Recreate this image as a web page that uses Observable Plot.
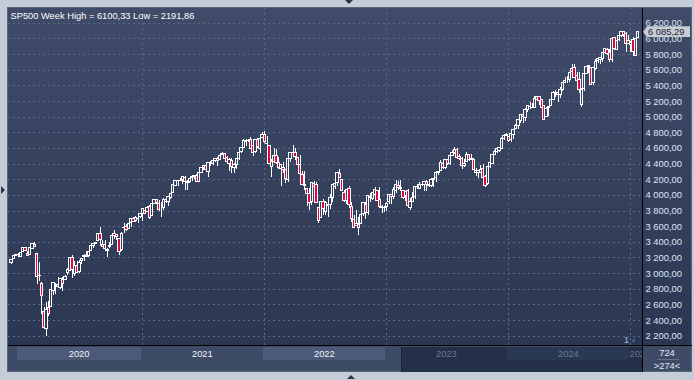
<!DOCTYPE html>
<html><head><meta charset="utf-8">
<script src="https://cdn.jsdelivr.net/npm/d3@7"></script>
<script src="https://cdn.jsdelivr.net/npm/@observablehq/plot@0.6"></script>
<style>
html,body{margin:0;padding:0;background:#c4ccd8;}
#wrap{position:relative;width:694px;height:380px;overflow:hidden;background:#c4ccd8;font-family:"Liberation Sans",Arial,sans-serif;}
.abs{position:absolute;box-sizing:border-box;}
#wrap svg{position:absolute;left:0;top:0;}
</style>
</head><body>
<div id="wrap"></div>
<script>
// ---- data (weekly S&P 500 bars, first week starting 2019-12-09) ----
const firstWeek = "2019-12-09";
const title = "SP500 Week High = 6100,33 Low = 2191,86";
const lastLabel = "6 085,29";
const years = ["2020","2021","2022","2023","2024","2025"];
const yTicks = [2200,2400,2600,2800,3000,3200,3400,3600,3800,4000,4200,4400,4600,4800,5000,5200,5400,5600,5800,6000,6200];
const barCountLabel = "724";
const visibleLabel = ">274<";

const open = [3141,3183,3227,
3240,3218,3271,3321,3248,3236,3319,3370,3257,2975,
2864,2509,2291,2558,2579,2782,2846,2855,2816,2915,
2913,3005,3038,3199,2994,3095,3018,3155,3206,3225,
3219,3289,3356,3381,3418,3509,3371,3364,3285,3334,
3367,3500,3494,3441,3297,3584,3601,3567,3642,3694,
3675,3694,3723,3764,3803,3782,3852,3732,3892,3939,
3886,3842,3844,3942,3916,3969,4035,4124,4179,4185,
4192,4228,4170,4170,4216,4229,4248,4174,4285,4356,
4373,4297,4409,4407,4438,4462,4454,4514,4535,4474,
4403,4442,4348,4385,4464,4554,4610,4701,4689,4712,
4629,4549,4711,4587,4734,4778,4655,4632,4357,4432,
4505,4412,4332,4354,4327,4202,4462,4541,4547,4474,
4385,4256,4131,4081,4013,3919,4151,4135,3838,3716,
3921,3793,3880,3883,3966,4113,4155,4270,4195,4034,
3930,4084,3849,3682,3610,3626,3639,3762,3883,3780,
3978,3956,4005,4053,3940,3853,3844,3853,3910,3999,
3979,4057,4120,4091,4050,3993,4055,3835,3917,3983,
4103,4085,4135,4138,4166,4136,4126,4191,4226,4282,
4308,4396,4344,4450,4395,4505,4543,4585,4492,4464,
4380,4426,4510,4460,4453,4310,4284,4289,4343,4239,
4140,4364,4407,4512,4554,4569,4593,4725,4758,4745,
4703,4772,4853,4892,4951,5027,4989,5094,5131,5112,
5123,5219,5258,5218,5149,5005,5114,5143,5221,5305,
5315,5283,5341,5432,5460,5471,5572,5634,5526,5477,
5151,5358,5558,5641,5624,5442,5615,5712,5727,5738,
5820,5858,5824,5725,6016,5863,5992,6040,6083,6063,
5941,5920,5982,5788,6014];
const high = [3176,3226,3248,
3258,3268,3330,3338,3285,3342,3385,3394,3259,3137,
2883,2562,2637,2641,2819,2880,2868,2954,2932,2945,
2981,3068,3212,3233,3155,3155,3166,3186,3238,3280,
3272,3352,3387,3399,3510,3588,3425,3429,3320,3393,
3482,3550,3502,3443,3529,3646,3628,3644,3702,3712,
3726,3711,3760,3827,3824,3861,3870,3888,3938,3951,
3929,3915,3960,3983,3978,4021,4131,4192,4195,4219,
4238,4236,4188,4214,4238,4249,4262,4287,4356,4372,
4394,4415,4429,4440,4470,4480,4513,4546,4538,4492,
4466,4466,4412,4475,4560,4608,4719,4718,4718,4744,
4672,4714,4732,4741,4808,4819,4749,4634,4453,4595,
4590,4490,4387,4416,4329,4465,4546,4637,4594,4476,
4513,4308,4308,4082,4091,4160,4178,4168,3839,3914,
3946,3919,3882,4013,4140,4167,4283,4325,4203,4062,
4076,4119,3906,3737,3807,3719,3762,3906,3911,4002,
4028,4034,4101,4056,4101,3876,3859,3906,4003,4015,
4095,4195,4176,4196,4052,4048,4079,3963,4039,4110,
4133,4164,4170,4170,4187,4155,4212,4213,4290,4300,
4448,4401,4458,4458,4528,4578,4607,4594,4527,4490,
4459,4542,4515,4527,4467,4338,4324,4385,4394,4259,
4366,4418,4521,4568,4598,4609,4738,4778,4793,4755,
4799,4843,4907,4975,5030,5049,5111,5141,5190,5180,
5262,5265,5264,5222,5152,5123,5140,5240,5325,5342,
5318,5375,5448,5506,5524,5570,5667,5670,5566,5567,
5362,5563,5643,5651,5627,5637,5734,5767,5767,5822,
5879,5878,5863,6012,6018,5973,6044,6100,6085,6085,
6050,5966,6021,6009,6100];
const low = [3117,3183,3224,
3212,3214,3264,3280,3214,3234,3315,3328,2855,2902,
2478,2280,2192,2447,2576,2725,2727,2816,2798,2767,
2910,2970,3031,2936,2966,3003,3000,3115,3152,3200,
3205,3284,3317,3369,3414,3349,3330,3313,3209,3323,
3354,3441,3419,3234,3280,3512,3543,3562,3595,3648,
3648,3636,3700,3663,3750,3780,3694,3725,3885,3885,
3790,3723,3806,3892,3853,3944,4034,4118,4118,4174,
4142,4057,4062,4154,4180,4209,4164,4165,4283,4320,
4315,4233,4367,4387,4425,4367,4450,4512,4457,4427,
4306,4279,4278,4330,4447,4537,4595,4631,4673,4586,
4495,4532,4600,4531,4732,4663,4582,4395,4223,4410,
4401,4327,4115,4279,4157,4161,4425,4507,4450,4381,
4262,4124,4062,3859,3811,3876,4074,3899,3637,3702,
3741,3742,3722,3818,3911,4079,4108,4218,4057,3907,
3887,3838,3647,3584,3599,3492,3638,3735,3698,3744,
3907,3937,3938,3919,3828,3765,3784,3795,3888,3885,
3949,4020,4060,4048,3943,3928,3847,3809,3906,3951,
4069,4072,4113,4049,4048,4099,4103,4103,4166,4255,
4304,4328,4328,4385,4382,4491,4528,4464,4450,4335,
4356,4424,4431,4448,4316,4238,4216,4283,4223,4104,
4127,4341,4404,4510,4537,4547,4590,4699,4751,4682,
4682,4714,4842,4845,4918,4920,4947,5057,5097,5105,
5117,5204,5146,5107,4953,4990,5012,5140,5212,5257,
5191,5234,5325,5430,5428,5448,5528,5497,5391,5306,
5120,5325,5540,5560,5403,5402,5602,5691,5674,5696,
5800,5784,5704,5696,5853,5854,5964,6015,6024,5832,
5935,5829,5774,5773,6005];
const close = [3169,3221,3240,
3235,3265,3330,3295,3226,3328,3380,3338,2954,2972,
2711,2305,2541,2489,2790,2875,2837,2831,2930,2864,
2955,3044,3194,3041,3098,3009,3130,3185,3225,3216,
3271,3351,3373,3397,3508,3427,3341,3319,3298,3348,
3477,3484,3465,3270,3509,3585,3558,3638,3699,3663,
3709,3703,3756,3825,3768,3841,3714,3887,3935,3907,
3811,3842,3943,3913,3975,4020,4129,4185,4180,4181,
4233,4174,4156,4204,4230,4247,4166,4281,4352,4370,
4327,4412,4395,4437,4468,4442,4509,4535,4459,4433,
4455,4357,4391,4471,4545,4605,4698,4683,4698,4595,
4538,4712,4621,4726,4766,4677,4663,4398,4432,4501,
4419,4349,4385,4329,4204,4463,4543,4546,4488,4393,
4272,4132,4123,4024,3901,4158,4109,3901,3675,3912,
3825,3899,3863,3962,4130,4145,4280,4228,4058,3924,
4067,3873,3693,3586,3640,3583,3753,3901,3771,3993,
3965,4026,4072,3934,3852,3845,3840,3895,3999,3973,
4071,4136,4090,4079,3970,4046,3862,3917,3971,4109,
4105,4138,4134,4169,4136,4124,4192,4205,4282,4299,
4410,4348,4450,4399,4505,4536,4582,4478,4464,4370,
4406,4516,4457,4450,4320,4288,4309,4328,4224,4117,
4358,4415,4514,4559,4595,4604,4719,4755,4770,4697,
4784,4840,4891,4959,5027,5006,5089,5137,5124,5117,
5234,5254,5204,5123,4967,5100,5128,5223,5303,5305,
5278,5347,5432,5465,5460,5567,5615,5505,5459,5347,
5344,5554,5635,5648,5408,5626,5703,5738,5751,5815,
5865,5808,5729,5996,5871,5969,6032,6090,6051,5931,
5971,5942,5827,5997,6085.29];

// ---- build rows ----
const t0 = new Date(firstWeek + "T00:00:00Z");
const bars = close.map((c, k) => {
  const mon = d3.utcDay.offset(t0, 7 * k);
  let last = d3.utcDay.offset(mon, 4);
  if (last.getUTCMonth() === 0 && last.getUTCDate() === 1) last = d3.utcDay.offset(last, -1);
  return {k, o: open[k], h: high[k], l: low[k], c, year: String(last.getUTCFullYear())};
});
const up = bars.filter(d => d.c >= d.o);
const down = bars.filter(d => d.c < d.o);
const yearStart = years.map(y => bars.find(d => d.year === y).k);

const loc = d3.formatLocale({decimal: ",", thousands: " ", grouping: [3], currency: ["", ""]});
const fmt = loc.format(",.2f");

const gridColor = "#5b6885";
const font = "'Liberation Sans', Arial, sans-serif";
const halfBody = 0.5;

const defs = () => {
  const d = d3.create("svg:defs");
  const g = d.append("linearGradient").attr("id", "bgGrad").attr("gradientUnits", "userSpaceOnUse")
    .attr("x1", 0).attr("x2", 0).attr("y1", 8).attr("y2", 345);
  g.append("stop").attr("offset", 0).attr("stop-color", "#3f4b68");
  g.append("stop").attr("offset", 1).attr("stop-color", "#2b3752");
  return d.node();
};

const chart = Plot.plot({
  width: 694, height: 380,
  marginLeft: 8, marginRight: 52, marginTop: 8, marginBottom: 35,
  style: {background: "transparent", overflow: "visible", fontFamily: font, color: "#dce5f3"},
  x: {type: "linear", domain: [-1.22, 268.9], axis: null},
  y: {type: "linear", domain: [2081, 6389], axis: null},
  marks: [
    defs,
    Plot.gridY(yTicks, {stroke: gridColor, strokeOpacity: 1, strokeDasharray: "2,3", shapeRendering: "crispEdges"}),
    Plot.ruleX(yearStart.slice(1), {stroke: gridColor, strokeOpacity: 1, strokeDasharray: "2,3", shapeRendering: "crispEdges"}),
    Plot.ruleX(bars, {x: "k", y1: "l", y2: "h", stroke: "#ffffff", strokeWidth: 1, shapeRendering: "crispEdges"}),
    Plot.rect(up, {x1: d => d.k - halfBody, x2: d => d.k + halfBody, y1: "o", y2: "c", fill: "url(#bgGrad)", stroke: "#ffffff", strokeWidth: 1, shapeRendering: "crispEdges"}),
    Plot.rect(down, {x1: d => d.k - halfBody, x2: d => d.k + halfBody, y1: "o", y2: "c", fill: "#e2063c", stroke: "#ffffff", strokeWidth: 1, shapeRendering: "crispEdges"}),
    Plot.axisY(yTicks, {anchor: "right", tickSize: 0, tickPadding: 3, tickFormat: fmt, label: null, fontSize: 9.4, color: "#dce5f3"}),
    Plot.text([title], {frameAnchor: "top-left", dx: 2, dy: 4, textAnchor: "start", lineAnchor: "top", fill: "#ffffff", fontSize: 9.3})
  ]
});

const sx = chart.scale("x"), sy = chart.scale("y");
const fx = sx.apply ? v => sx.apply(v) : d3.scaleLinear(sx.domain, sx.range);
const fy = sy.apply ? v => sy.apply(v) : d3.scaleLinear(sy.domain, sy.range);

const wrap = document.getElementById("wrap");
function box(css, html) {
  const e = document.createElement("div");
  e.className = "abs";
  e.style.cssText = css;
  if (html !== undefined) e.innerHTML = html;
  wrap.appendChild(e);
  return e;
}
// outer panel and backgrounds
box("left:7px;top:7px;width:685px;height:365px;border:1px solid #5d6679;background:#3e4b67;");
box("left:8px;top:8px;width:683px;height:337px;background:linear-gradient(#3f4b68,#2b3752);");
// bottom year strip
const barTop = 346;
const darkLeft = 401;
years.forEach((y, j) => {
  const x0 = fx(yearStart[j]) - 1;
  const x1 = j + 1 < years.length ? fx(yearStart[j + 1]) - 1 : 642;
  if (j % 2 === 0 && x0 < darkLeft) {
    box(`left:${x0}px;top:${barTop + 1}px;width:${Math.min(x1, 642) - x0}px;height:13px;background:#4c5a77;`);
  }
});
box(`left:${darkLeft}px;top:${barTop + 1}px;width:${642 - darkLeft}px;height:25px;background:#233048;border-left:1px solid #1a2336;`);
years.forEach((y, j) => {
  const x0 = fx(yearStart[j]) - 1;
  const x1 = j + 1 < years.length ? fx(yearStart[j + 1]) - 1 : 642;
  if (j % 2 === 0 && x0 > darkLeft) {
    box(`left:${x0}px;top:${barTop + 1}px;width:${Math.min(x1, 642) - x0}px;height:13px;background:#2b3853;`);
  }
});
const labelLayer = box(`left:8px;top:${barTop}px;width:634px;height:26px;overflow:hidden;`);
years.forEach((y, j) => {
  const x0 = fx(yearStart[j]) - 1;
  const x1 = j + 1 < years.length ? fx(yearStart[j + 1]) - 1 : null;
  const col = x0 > darkLeft - 20 ? "#6c7891" : "#eef3fb";
  const e = document.createElement("div");
  e.className = "abs";
  if (x1 !== null) {
    e.style.cssText = `left:${x0 - 8}px;width:${x1 - x0}px;top:2px;text-align:center;font-size:9.3px;line-height:12px;color:${col};`;
  } else {
    e.style.cssText = `left:${x0 - 8}px;top:2px;font-size:9.3px;line-height:12px;color:${col};white-space:nowrap;`;
  }
  e.textContent = y;
  labelLayer.appendChild(e);
});
// separators
box("left:642px;top:8px;width:1px;height:364px;background:#000;");
box("left:8px;top:345px;width:684px;height:1px;background:#000;");
// bottom-right cell
box(`left:643px;top:347px;width:48px;height:12px;text-align:center;font-size:9.3px;line-height:12px;color:#e6ecf6;`, barCountLabel);
box(`left:657px;top:359px;width:22px;height:1px;background:#667089;`);
box(`left:643px;top:360px;width:48px;height:12px;text-align:center;font-size:9.3px;line-height:12px;color:#e6ecf6;`, visibleLabel.replace(/</g, "&lt;").replace(/>/g, "&gt;"));
// marker "1"
box("left:624px;top:335px;font-size:9px;line-height:11px;color:#a9c3ea;", "1");
box("left:631px;top:338px;width:0;height:0;border-left:4px solid transparent;border-bottom:4px solid #56627c;");

wrap.appendChild(chart);

// price tag for last close (on top)
const ly = fy(close[close.length - 1]);
box(`left:643px;top:${ly - 5.5}px;width:47px;height:11px;background:#c8ccd4;color:#1d2533;font-size:9.4px;line-height:11px;padding-left:5px;clip-path:polygon(0 50%,4px 0,100% 0,100% 100%,4px 100%);z-index:5;`, lastLabel);
// outer triangles
box("left:345px;top:0px;width:0;height:0;border-left:4px solid transparent;border-right:4px solid transparent;border-top:4px solid #2c3446;");
box("left:347px;top:375px;width:0;height:0;border-left:4px solid transparent;border-right:4px solid transparent;border-bottom:4px solid #2c3446;");
box("left:1px;top:186px;width:0;height:0;border-top:4px solid transparent;border-bottom:4px solid transparent;border-left:4px solid #2c3446;");
</script>
</body></html>
